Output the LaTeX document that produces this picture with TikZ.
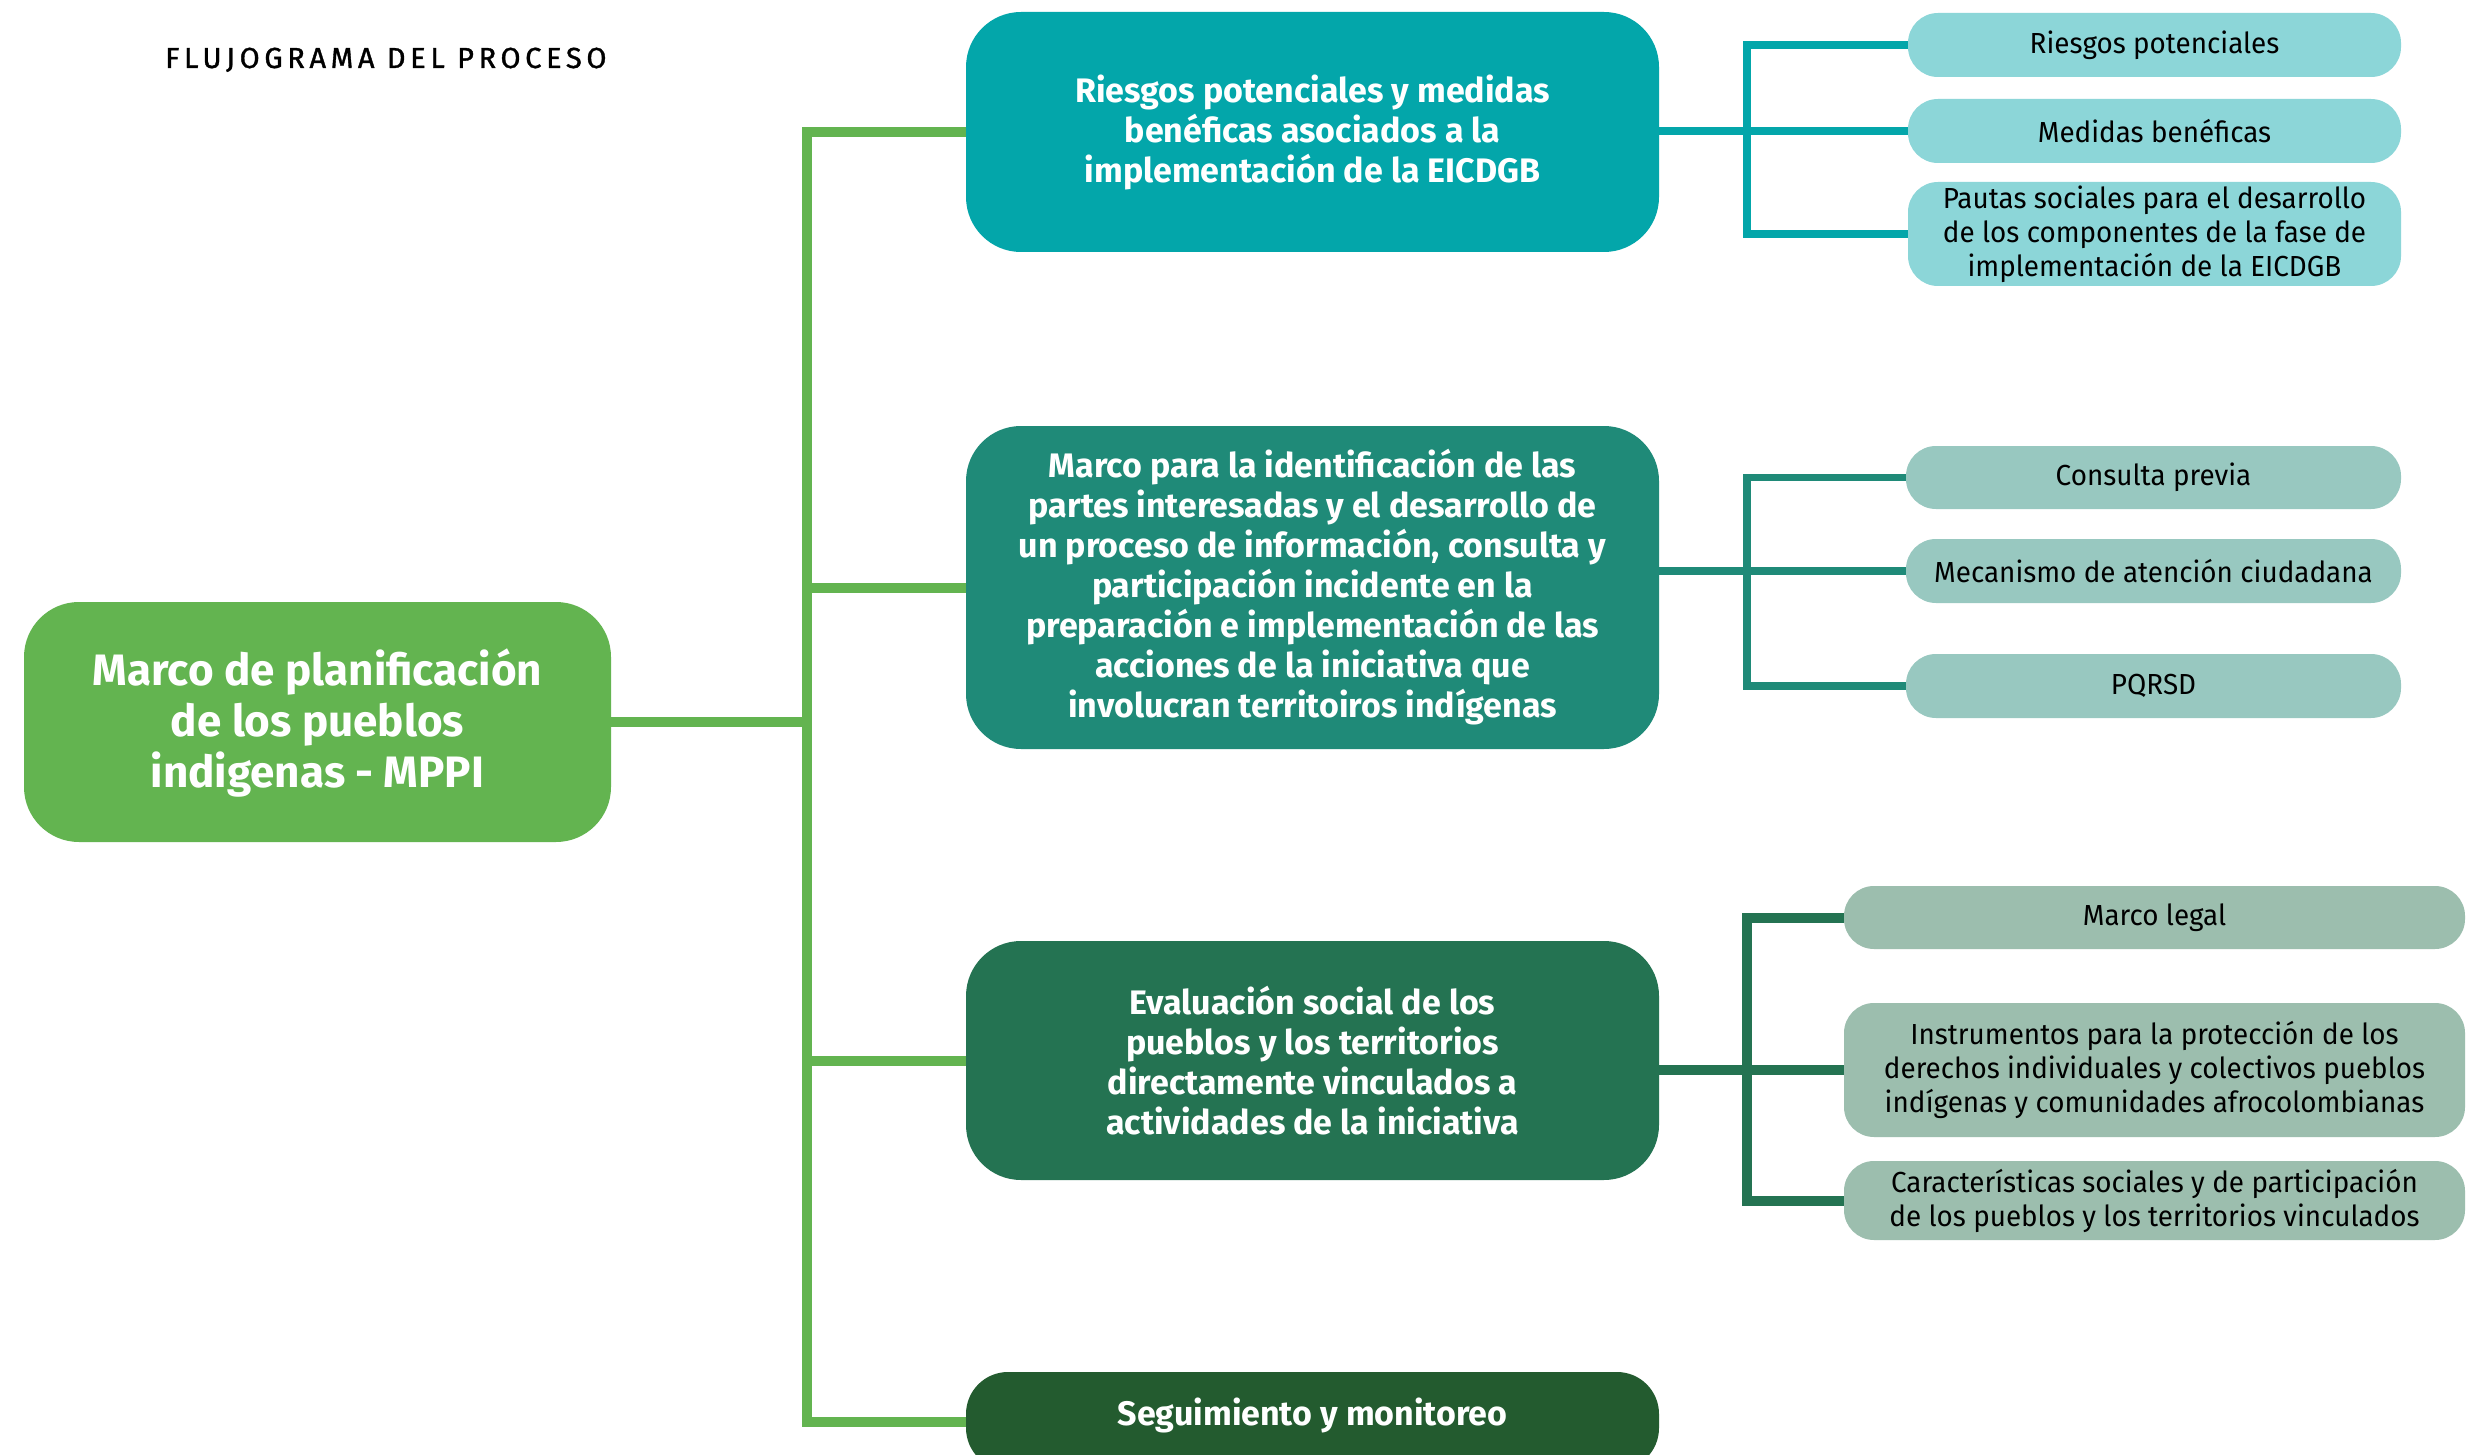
\documentclass[tikz,border=0pt]{standalone}
\usepackage{fontspec}
\setmainfont{Fira Sans}[FakeStretch=0.96,BoldFeatures={FakeStretch=1.0}]
\newfontfamily\titlefont{Fira Sans}[LetterSpace=16,FakeBold=1.2]
\usetikzlibrary{calc}
\definecolor{cRoot}{HTML}{63B450}
\definecolor{cM1}{HTML}{03A6AA}
\definecolor{cS1}{HTML}{8CD6D8}
\definecolor{cM2}{HTML}{1F8A78}
\definecolor{cS2}{HTML}{98C8C0}
\definecolor{cM3}{HTML}{247352}
\definecolor{cS3}{HTML}{9CBEAE}
\definecolor{cM4}{HTML}{235B2F}
\begin{document}
\begin{tikzpicture}[x=1pt,y=-1pt,
  rootbox/.style={rectangle, inner sep=0pt, align=center, text=white,
    minimum width=587pt, minimum height=240pt, rounded corners=55pt, fill=cRoot,
    font=\fontsize{44}{51}\selectfont\bfseries},
  mainbox/.style={rectangle, inner sep=0pt, align=center, text=white,
    minimum width=693pt, rounded corners=55pt,
    font=\fontsize{34}{40}\selectfont\bfseries},
  subbox/.style={rectangle, inner sep=0pt, align=center, text=black,
    minimum width=493pt, rounded corners=30pt,
    font=\fontsize{29}{34}\selectfont},
  gline/.style={draw=cRoot, line width=10pt, line join=miter},
  lone/.style={draw=cM1, line width=7.5pt, line join=miter},
  ltwo/.style={draw=cM2, line width=7.5pt, line join=miter},
  lthree/.style={draw=cM3, line width=10pt, line join=miter}
]
\useasboundingbox[fill=white] (0,0) rectangle (2485,1455);

% title
\node[anchor=base west, inner sep=0pt, font=\fontsize{29}{34}\selectfont\titlefont] (title) at (165,68) {FLUJOGRAMA DEL PROCESO};

% root
\node[rootbox, text depth=8pt] (root) at (317.5,722) {Marco de planificación\\de los pueblos\\indigenas - MPPI};

% main boxes
\node[mainbox, fill=cM1, minimum height=240pt] (m1) at (1312.5,132) {Riesgos potenciales y medidas\\benéficas asociados a la\\implementación de la EICDGB};
\node[mainbox, fill=cM2, minimum height=323pt] (m2) at (1312.5,587.5) {Marco para la identificación de las\\partes interesadas y el desarrollo de\\un proceso de información, consulta y\\participación incidente en la\\preparación e implementación de las\\acciones de la iniciativa que\\involucran territoiros indígenas};
\node[mainbox, fill=cM3, minimum height=239pt] (m3) at (1312.5,1060.5) {Evaluación social de los\\pueblos y los territorios\\directamente vinculados a\\actividades de la iniciativa};
\node[mainbox, fill=cM4, text height=53pt, text depth=45pt, rounded corners=42pt, anchor=base] (m4) at (1312.5,1425) {Seguimiento y monitoreo};

% sub boxes group 1
\node[subbox, fill=cS1, minimum height=64pt] (s11) at (2154.5,45) {Riesgos potenciales};
\node[subbox, fill=cS1, minimum height=64pt] (s12) at (2154.5,131) {Medidas benéficas};
\node[subbox, fill=cS1, minimum height=104pt] (s13) at (2154.5,234) {Pautas sociales para el desarrollo\\de los componentes de la fase de\\implementación de la EICDGB};

% sub boxes group 2
\node[subbox, fill=cS2, minimum width=495pt, minimum height=63pt] (s21) at (2153.5,477.5) {Consulta previa};
\node[subbox, fill=cS2, minimum width=495pt, minimum height=64pt] (s22) at (2153.5,571) {Mecanismo de atención ciudadana};
\node[subbox, fill=cS2, minimum width=495pt, minimum height=64pt] (s23) at (2153.5,686) {PQRSD};

% sub boxes group 3
\node[subbox, fill=cS3, minimum width=621pt, minimum height=63pt] (s31) at (2154.5,917.5) {Marco legal};
\node[subbox, fill=cS3, minimum width=621pt, minimum height=134pt] (s32) at (2154.5,1070) {Instrumentos para la protección de los\\derechos individuales y colectivos pueblos\\indígenas y comunidades afrocolombianas};
\node[subbox, fill=cS3, minimum width=621pt, minimum height=79pt] (s33) at (2154.5,1200.5) {Características sociales y de participación\\de los pueblos y los territorios vinculados};

% trunk
\coordinate (tr) at (807,0);
\draw[gline] (m1.west) -| (tr |- m4.mid west) -- (m4.mid west);
\draw[gline] (m2.west) -- (m2.west -| tr);
\draw[gline] (m3.west) -- (m3.west -| tr);
\draw[gline] (root.east) -- (root.east -| tr);

% bracket x
\coordinate (bx) at (1747,0);

% group 1 connectors
\draw[lone] (m1.east |- s12.west) -- (s12.west);
\draw[lone] (s11.west) -| (bx |- s13.west) -- (s13.west);

% group 2 connectors
\draw[ltwo] (m2.east |- s22.west) -- (s22.west);
\draw[ltwo] (s21.west) -| (bx |- s23.west) -- (s23.west);

% group 3 connectors
\draw[lthree] (m3.east |- s32.west) -- (s32.west);
\draw[lthree] (s31.west) -| (bx |- s33.west) -- (s33.west);
\end{tikzpicture}
\end{document}
